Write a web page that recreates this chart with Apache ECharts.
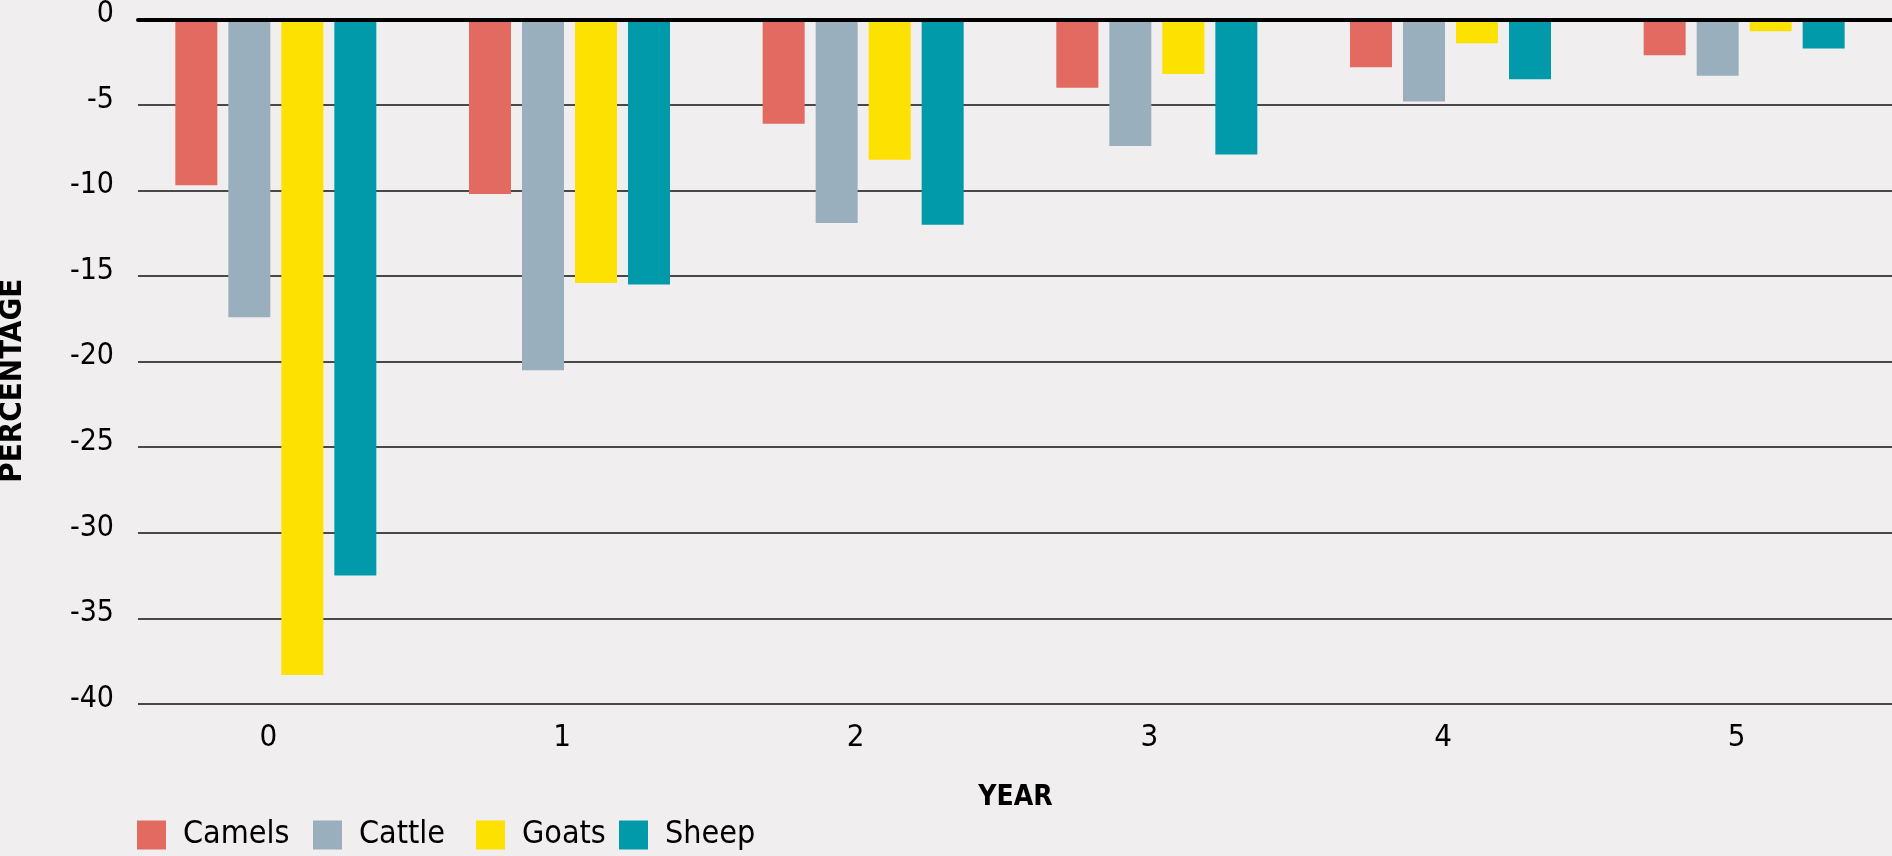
<!DOCTYPE html>
<html>
<head>
<meta charset="utf-8">
<script src="https://cdn.jsdelivr.net/npm/echarts@6/dist/echarts.min.js"></script>
<style>
html,body{margin:0;padding:0;background:#F1EEEF;}
#c{width:1892px;height:856px;}
</style>
</head>
<body>
<div id="c"></div>
<script>
var categories = ['0', '1', '2', '3', '4', '5'];
var seriesNames = ['Camels', 'Cattle', 'Goats', 'Sheep'];
var camels = [-9.7, -10.2, -6.1, -4.0, -2.8, -2.1];
var cattle = [-17.4, -20.5, -11.9, -7.4, -4.8, -3.3];
var goats  = [-38.3, -15.4, -8.2, -3.2, -1.4, -0.7];
var sheep  = [-32.5, -15.5, -12.0, -7.9, -3.5, -1.7];
var yMin = -40, yMax = 0, yStep = 5;
var colors = ['#E36A60', '#99AFBD', '#FDE100', '#009AAA'];
var legendLeft = [137, 313, 476, 619];

var FONT = '"DejaVu Sans Condensed", "Liberation Sans Narrow", "Liberation Sans", sans-serif';
var values = [camels, cattle, goats, sheep];

var chart = echarts.init(document.getElementById('c'), null, {renderer: 'canvas'});
var gridTop = 19.3, gridBottom = 152;

var series = seriesNames.map(function (n, i) {
  return {
    name: n,
    type: 'bar',
    xAxisIndex: 1,
    yAxisIndex: 1,
    data: values[i],
    barWidth: 42,
    barGap: '26.2%',
    itemStyle: {color: colors[i]},
    z: 2
  };
});

var legends = seriesNames.map(function (n, i) {
  return {
    data: [n],
    left: legendLeft[i],
    top: 819,
    padding: 0,
    orient: 'horizontal',
    icon: 'rect',
    itemWidth: 29,
    itemHeight: 29,
    selectedMode: false,
    textStyle: {fontFamily: FONT, fontSize: 32, color: '#000', lineHeight: 29, padding: [0, 0, 0, 12]}
  };
});

chart.setOption({
  backgroundColor: '#F1EEEF',
  animation: false,
  color: colors,
  textStyle: {fontFamily: FONT, color: '#000'},
  legend: legends,
  grid: [
    {left: 138, right: 0, top: gridTop, bottom: gridBottom, containLabel: false, outerBoundsMode: 'none'},
    {left: 129, right: 1, top: gridTop, bottom: gridBottom, containLabel: false, outerBoundsMode: 'none'}
  ],
  xAxis: [
    {
      gridIndex: 0,
      type: 'value',
      position: 'top',
      min: 0, max: 1,
      axisLine: {show: true, onZero: false, lineStyle: {color: '#000', width: 4}},
      axisTick: {show: false},
      axisLabel: {show: false},
      splitLine: {show: false},
      z: 10
    },
    {
      gridIndex: 1,
      type: 'category',
      data: categories,
      position: 'bottom',
      name: 'YEAR',
      nameLocation: 'middle',
      nameGap: 80,
      nameTextStyle: {fontFamily: FONT, fontSize: 28, fontWeight: 'bold', color: '#000', padding: [0, 0, 0, 11]},
      axisLine: {show: false, onZero: false},
      axisTick: {show: false},
      axisLabel: {fontFamily: FONT, fontSize: 31, color: '#000', margin: 18, padding: [0, 15, 0, 0]},
      splitLine: {show: false}
    }
  ],
  yAxis: [
    {
      gridIndex: 0,
      type: 'value',
      min: yMin, max: yMax, interval: yStep,
      name: 'PERCENTAGE',
      nameLocation: 'middle',
      nameGap: 110,
      nameRotate: 90,
      nameTextStyle: {fontFamily: FONT, fontSize: 31, fontWeight: 'bold', color: '#000', padding: [0, 38, 0, 0]},
      axisLine: {show: false},
      axisTick: {show: false},
      axisLabel: {fontFamily: FONT, fontSize: 30, color: '#000', margin: 24, verticalAlign: 'bottom', lineHeight: 10},
      splitLine: {show: true, lineStyle: {color: '#111', width: 1.5}}
    },
    {
      gridIndex: 1,
      type: 'value',
      min: yMin, max: yMax, interval: yStep,
      show: false,
      splitLine: {show: false}
    }
  ],
  series: series
});
</script>
</body>
</html>
